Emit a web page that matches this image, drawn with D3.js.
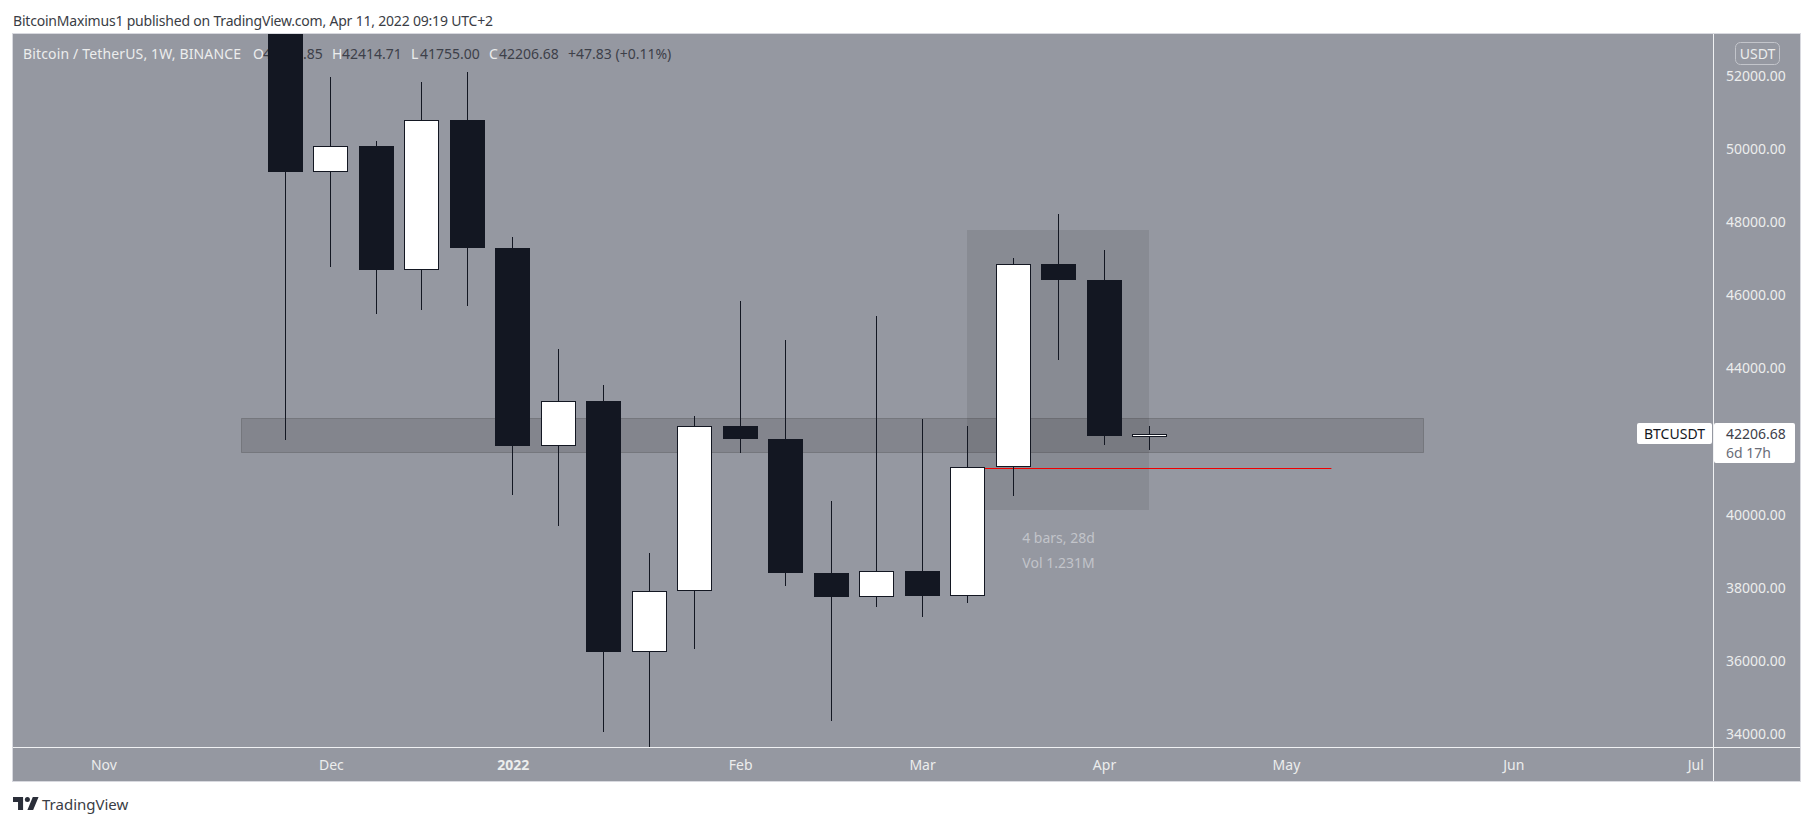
<!DOCTYPE html>
<html><head><meta charset="utf-8">
<script src="https://cdn.jsdelivr.net/npm/d3@7/dist/d3.min.js"></script>
<style>
html,body{margin:0;padding:0;background:#fff;overflow:hidden}
svg{display:block}
text{font-family:"Noto Sans",sans-serif}
</style></head><body><svg id="c" width="1813" height="826"></svg>
<script>
const weeks=["2021-11-29","2021-12-06","2021-12-13","2021-12-20","2021-12-27","2022-01-03","2022-01-10","2022-01-17","2022-01-24","2022-01-31","2022-02-07","2022-02-14","2022-02-21","2022-02-28","2022-03-07","2022-03-14","2022-03-21","2022-03-28","2022-04-04","2022-04-11"];
const opens =[57274,49380,50073,46696,50790,47301,41875,43106,36242,37908,42428,42064,38416,37733,38455,37782,41298,46844,46415,42158.85];
const highs =[59041,51971,50213,51832,52108,47588,44525,43546,38949,42693,45843,44774,40369,45428,42616,42420,47019,48222,47235,42414.71];
const lows  =[42050,46773,45493,45592,45706,40546,39690,34066,33000,36313,41687,38055,34364,37478,37205,37596,40516,44238,41903,41755.00];
const closes=[49380,50073,46685,50790,47301,41875,43106,36242,37908,42428,42064,38416,37733,38446,37782,41298,46844,46415,42146,42206.68];

const priceTicks=[34000,36000,38000,40000,44000,46000,48000,50000,52000];
const timeTickDates=["2021-11-01","2021-12-06","2022-01-03","2022-02-07","2022-03-07","2022-04-04","2022-05-02","2022-06-06","2022-07-04"];
const timeTickLabels=["Nov","Dec","2022","Feb","Mar","Apr","May","Jun","Jul"];

const bandPrices=[42650,41720], bandDates=["2021-11-22T06:00","2022-05-23T05:00"];
const rangePrices=[47782,40125], rangeDates=["2022-03-14","2022-04-11"];
const redLinePrice=41270, redLineDates=["2022-03-14","2022-05-09"];
const lastPrice=42206.68;

const L=13,R=1713,T=34,B=747,OR=1800,OB=781;
const svg=d3.select("#c");
const toD=s=>new Date(s.length>10?s+"Z":s+"T00:00:00Z");
const x=d3.scaleUtc().domain([toD("2021-10-18T02:00"),toD("2022-07-06T17:30")]).range([L,R]);
const y=d3.scaleLinear().domain([33645,53141]).range([B,T]);
const px=d=>Math.floor(x(d))+0.5;
const py=v=>Math.round(y(v))+0.5;

const BG="#9598a1",DK="#131722",LT="#eceded",FS=14;

svg.append("text").attr("x",13).attr("y",21).attr("dy",".36em").attr("font-size",FS).attr("letter-spacing",-0.2).attr("fill","#3a3d45")
  .text("BitcoinMaximus1 published on TradingView.com, Apr 11, 2022 09:19 UTC+2");
svg.append("rect").attr("x",L-.5).attr("y",T-.5).attr("width",OR-L+1).attr("height",OB-T+1).attr("fill",BG).attr("stroke","#d8d9df");

svg.append("defs").append("clipPath").attr("id","pane").append("rect").attr("x",L).attr("y",T).attr("width",R-L).attr("height",B-T);

// legend
const legend=[[23,"Bitcoin / TetherUS, 1W, BINANCE",LT,.15],[253,"O",LT,0],[263,"42158.85","#3d4049",0],[332,"H",LT,0],[342,"42414.71","#3d4049",0],[411,"L",LT,0],[420,"41755.00","#3d4049",0],[489,"C",LT,0],[499,"42206.68","#3d4049",0],[568,"+47.83 (+0.11%)","#3d4049",0]];
svg.append("g").attr("font-size",FS).selectAll("text").data(legend).join("text").attr("x",d=>d[0]).attr("y",54).attr("dy",".36em").attr("letter-spacing",d=>d[3]).attr("fill",d=>d[2]).text(d=>d[1]);

const pane=svg.append("g").attr("clip-path","url(#pane)");
const rectOf=(dates,prices)=>({x:x(toD(dates[0])),w:x(toD(dates[1]))-x(toD(dates[0])),y:y(prices[0]),h:y(prices[1])-y(prices[0])});
const b=rectOf(bandDates,bandPrices);
pane.append("rect").attr("x",Math.round(b.x)+.5).attr("y",Math.round(b.y)+.5).attr("width",Math.round(b.w)).attr("height",Math.round(b.h))
  .attr("fill","rgba(50,50,50,.18)").attr("stroke","rgba(50,50,50,.25)");
const r=rectOf(rangeDates,rangePrices);
pane.append("rect").attr("x",Math.floor(r.x)).attr("y",Math.round(r.y)).attr("width",Math.round(r.w)).attr("height",Math.round(r.h)).attr("fill","rgba(30,30,30,.10)");
pane.append("line").attr("x1",x(toD(redLineDates[0]))).attr("x2",x(toD(redLineDates[1]))).attr("y1",py(redLinePrice)).attr("y2",py(redLinePrice)).attr("stroke","#f00000").attr("stroke-width",1);

const rows=weeks.map((w,i)=>({d:toD(w),o:opens[i],h:highs[i],l:lows[i],c:closes[i]}));
const g=pane.selectAll("g.c").data(rows).join("g").attr("class","c");
g.append("line").attr("x1",d=>px(d.d)).attr("x2",d=>px(d.d)).attr("y1",d=>Math.round(y(d.h))).attr("y2",d=>Math.round(y(d.l))).attr("stroke",DK);
const bodyTop=d=>Math.round(y(Math.max(d.o,d.c))), bodyBot=d=>Math.round(y(Math.min(d.o,d.c)));
g.append("rect").attr("x",d=>px(d.d)-17).attr("width",34)
  .attr("y",d=>bodyTop(d)+.5).attr("height",d=>Math.max(2,bodyBot(d)-bodyTop(d)-1))
  .attr("fill",d=>d.c>=d.o?"#fff":DK).attr("stroke",DK);

// range tool label
const rc=r.x+r.w/2;
svg.append("g").attr("font-size",FS).attr("fill","#c2c4ca").attr("text-anchor","middle")
  .selectAll("text").data([["4 bars, 28d",537.5],["Vol 1.231M",562.5]]).join("text").attr("x",rc).attr("y",d=>d[1]).attr("dy",".36em").text(d=>d[0]);

// axes
const yAxis=d3.axisRight(y).tickValues(priceTicks).tickSize(0).tickFormat(d3.format(".2f"));
const ya=svg.append("g").attr("transform",`translate(${R},0)`).call(yAxis);
ya.select(".domain").remove();
ya.selectAll("text").attr("x",13).attr("fill",LT).attr("font-size",FS).attr("font-family",'"Noto Sans",sans-serif');
const xAxis=d3.axisBottom(x).tickValues(timeTickDates.map(toD)).tickSize(0).tickFormat((d,i)=>timeTickLabels[i]);
const xa=svg.append("g").attr("transform",`translate(0,${B})`).call(xAxis);
xa.select(".domain").remove();
xa.selectAll("text").attr("y",18).attr("dy",".36em").attr("fill",LT).attr("font-size",FS).attr("font-family",'"Noto Sans",sans-serif')
  .attr("font-weight",(d,i)=>timeTickLabels[i]==="2022"?"bold":"normal");
svg.append("line").attr("x1",R+.5).attr("x2",R+.5).attr("y1",T).attr("y2",OB).attr("stroke","#f0f1f3");
svg.append("line").attr("x1",L).attr("x2",OR).attr("y1",B+.5).attr("y2",B+.5).attr("stroke","#f0f1f3");

// USDT badge
svg.append("rect").attr("x",1735.5).attr("y",42.5).attr("width",44).attr("height",22).attr("rx",5).attr("fill","none").attr("stroke","#c3c5cb");
svg.append("text").attr("x",1757.5).attr("y",53.5).attr("dy",".36em").attr("text-anchor","middle").attr("fill",LT).attr("font-size",FS).text("USDT");

// last price labels
svg.append("rect").attr("x",1714).attr("y",423).attr("width",81).attr("height",40).attr("rx",2).attr("fill","#fff");
svg.append("text").attr("x",1726).attr("y",y(lastPrice)).attr("dy",".36em").attr("font-size",FS).attr("fill","#3d4049").text(d3.format(".2f")(lastPrice));
svg.append("text").attr("x",1726).attr("y",453).attr("dy",".36em").attr("font-size",FS).attr("fill","#6a6d78").text("6d 17h");
svg.append("rect").attr("x",1637).attr("y",423).attr("width",75).attr("height",21).attr("rx",2).attr("fill","#fff");
svg.append("text").attr("x",1674.5).attr("y",433.5).attr("dy",".36em").attr("text-anchor","middle").attr("font-size",FS).attr("fill",DK).text("BTCUSDT");

// footer logo
const lgo=svg.append("g").attr("transform","translate(13,797) scale(.72)").attr("fill","#2a2e39");
lgo.append("path").attr("d","M14 18H7V7H0V0h14v18zM28 18h-8L27.5 0h8L28 18z");
lgo.append("circle").attr("cx",20).attr("cy",3.5).attr("r",3.5);
svg.append("text").attr("x",42).attr("y",805).attr("dy",".36em").attr("font-size",15).attr("fill","#3a3d45").text("TradingView");
</script></body></html>
